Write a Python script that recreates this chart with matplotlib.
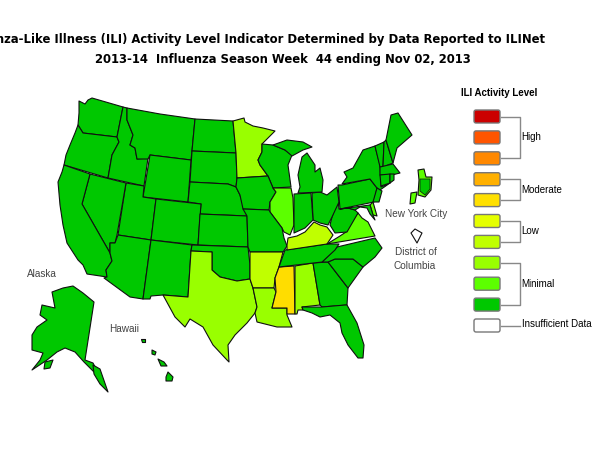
import matplotlib
matplotlib.use("Agg")
import matplotlib.pyplot as plt
from matplotlib.patches import FancyBboxPatch

# LEVELS
level_colors = ["#cc0000", "#ff5500", "#ff8800", "#ffb000", "#ffe000", "#e5ff00",
                "#c0ff00", "#99ff00", "#5cff00", "#00c800", "#ffffff"]
DARK, MID, LIGHT, LOW, MOD = "#00c800", "#5cff00", "#99ff00", "#c0ff00", "#ffdd00"

# STATE OUTLINES (reference pixels)
WA = [(79,101),(85,104),(88,100),(92,98),(123,107),(117,137),(100,135),(83,133),(78,125),(79,113)]
OR = [(78,125),(83,133),(100,135),(117,137),(119,142),(112,155),(108,178),(64,165),(66,155),(70,145),(75,133)]
ID = [(123,107),(127,108),(127,120),(133,135),(130,145),(135,148),(137,159),(148,158),(144,186),(108,178),(112,155),(119,142),(117,137)]
MT = [(127,108),(160,114),(195,119),(192,151),(191,160),(150,155),(148,159),(137,159),(135,148),(130,145),(133,135),(127,120)]
WY = [(150,155),(191,160),(188,202),(143,197)]
ND = [(195,119),(233,121),(236,153),(192,151)]
SD = [(192,151),(236,153),(237,178),(236,187),(228,184),(190,182)]
NE = [(190,182),(228,184),(236,187),(240,195),(243,205),(247,216),(200,214),(201,204),(188,202)]
UT = [(126,183),(144,186),(143,197),(156,199),(151,240),(118,235)]
CO = [(156,199),(201,204),(198,245),(151,240)]
KS = [(200,214),(247,216),(248,247),(198,245)]
NV = [(90,174),(126,183),(117,235),(115,243),(110,243),(110,253),(82,204)]
CA = [(64,165),(90,174),(82,204),(110,253),(112,261),(106,270),(107,277),(87,274),(83,265),(78,260),(67,243),(63,225),
      (60,205),(58,182),(62,172)]
AZ = [(118,235),(151,240),(143,299),(130,297),(104,278),(107,277),(106,270),(112,261),(110,253),(110,243),(115,243)]
NM = [(151,240),(192,245),(191,251),(188,297),(163,295),(151,296),(150,299),(143,299)]
OK = [(192,245),(248,247),(250,265),(250,279),(237,281),(220,277),(212,270),(212,252),(191,251)]
TX = [(191,251),(212,252),(212,270),(220,277),(237,281),(250,279),(253,288),(257,307),(255,313),(247,323),(235,335),
      (228,345),(229,362),(227,360),(213,345),(203,327),(190,319),(185,327),(175,317),(163,295),(188,297)]
MN = [(233,121),(244,118),(245,122),(253,126),(263,128),(275,131),(262,144),(262,152),(258,160),(260,165),(268,176),(237,178),(236,153)]
WI = [(262,144),(273,145),(285,150),(292,155),(288,165),(291,187),(273,188),(268,176),(260,165),(258,160),(262,152)]
IA = [(237,178),(268,176),(273,188),(276,192),(270,202),(269,210),(243,209),(240,195),(236,187)]
IL = [(273,188),(291,188),(293,198),(294,225),(290,235),(284,232),(282,228),(270,212),(270,202),(276,192)]
MO = [(243,209),(269,210),(270,212),(282,228),(284,238),(287,246),(283,252),(250,252),(248,247),(247,216)]
AR = [(250,252),(283,252),(279,267),(275,278),(274,288),(253,288),(250,279)]
LA = [(253,288),(274,288),(276,292),(272,308),(287,308),(287,315),(292,327),(277,327),(257,322),(255,313),(257,307)]
MS = [(279,267),(294,266),(295,314),(287,314),(287,308),(272,308),(276,292),(275,278)]
AL = [(295,266),(313,263),(320,305),(302,307),(303,310),(298,310),(297,314),(295,314)]
GA = [(313,263),(328,262),(348,288),(347,305),(322,307),(320,305)]
FL = [(302,307),(322,307),(345,305),(347,305),(357,323),(364,345),(363,358),(358,358),(348,345),(342,333),(340,323),
      (330,315),(320,317),(312,313),(303,310)]
SC = [(328,262),(335,259),(353,259),(363,267),(348,288)]
NC = [(322,262),(337,247),(375,238),(382,248),(375,257),(363,267),(353,259),(335,259),(328,262)]
TN = [(285,250),(327,244),(339,244),(335,250),(322,262),(279,267)]
KY = [(287,245),(288,238),(297,236),(305,232),(314,222),(320,225),(327,227),(333,235),(327,244),(287,250)]
VA = [(327,244),(340,236),(346,232),(352,221),(358,213),(362,218),(368,222),(371,228),(375,236)]
WV = [(338,200),(339,209),(348,208),(355,210),(358,213),(347,232),(335,233),(330,225),(332,217)]
OH = [(312,193),(320,192),(327,195),(337,187),(339,202),(332,217),(328,225),(320,223),(313,220)]
IN = [(294,194),(311,193),(313,220),(305,228),(294,233),(294,225)]
MI_L = [(298,193),(322,192),(323,180),(320,168),(315,172),(315,165),(307,153),(302,157),(298,175),(300,187)]
MI_U = [(273,145),(287,140),(303,142),(312,147),(303,150),(292,156),(285,150)]
PA = [(338,185),(342,185),(370,179),(377,188),(374,202),(340,209)]
NY = [(344,172),(353,168),(363,150),(375,146),(380,165),(381,187),(390,183),(380,190),(377,188),(370,179),(342,184),(347,177)]
VT = [(375,146),(384,142),(383,167),(380,167)]
NH = [(384,142),(386,140),(393,163),(383,167)]
ME = [(386,140),(391,115),(398,113),(412,135),(397,148),(393,163)]
MA = [(380,167),(393,164),(400,173),(392,175),(380,175)]
CT = [(380,175),(390,174),(390,183),(381,186)]
RI = [(390,174),(394,174),(394,180),(390,183)]
NJ = [(377,188),(382,191),(379,202),(373,202),(375,195)]
DE = [(370,205),(373,202),(377,216),(373,215)]
MD = [(340,209),(370,205),(373,215),(375,220),(370,214),(367,208),(360,207),(355,210),(348,208)]
NYC_A = [(418,170),(424,169),(426,177),(432,177),(431,190),(425,197),(418,195),(419,180)]
NYC_B = [(411,193),(417,192),(415,203),(410,204)]
DC = [(411,233),(415,229),(422,233),(417,243)]
AK = [(52,292),(63,288),(73,286),(83,293),(94,302),(85,360),(93,363),(102,380),(90,368),(84,362),(75,352),(65,348),
      (57,352),(47,360),(32,370),(40,360),(43,353),(32,350),(32,335),(37,327),(47,320),(40,315),(42,305),(55,308)]
AK_PAN = [(93,365),(100,369),(108,392),(100,384),(94,374)]
KODIAK = [(45,362),(53,360),(50,368),(44,369)]
HI_1 = [(141,339),(145,339),(145,342),(142,342)]
HI_2 = [(152,350),(156,352),(155,355),(152,354)]
HI_3 = [(158,359),(164,362),(167,366),(161,366)]
HI_4 = [(168,372),(173,377),(172,381),(166,381),(166,377)]

states = [(WA,DARK),(OR,DARK),(ID,DARK),(MT,DARK),(WY,DARK),(ND,DARK),(SD,DARK),(NE,DARK),(UT,DARK),(CO,DARK),
          (KS,DARK),(NV,DARK),(CA,DARK),(AZ,DARK),(NM,DARK),(OK,DARK),(TX,LIGHT),(MN,LIGHT),(WI,DARK),(IA,DARK),
          (IL,MID),(MO,DARK),(AR,LOW),(LA,LIGHT),(MS,MOD),(AL,LIGHT),(GA,DARK),(FL,DARK),(SC,DARK),(NC,DARK),
          (TN,DARK),(KY,LOW),(VA,MID),(WV,DARK),(OH,DARK),(IN,DARK),(MI_L,DARK),(MI_U,DARK),(PA,DARK),(NY,DARK),
          (VT,DARK),(NH,DARK),(ME,DARK),(MA,DARK),(CT,DARK),(RI,DARK),(NJ,DARK),(DE,MID),(MD,DARK),
          (NYC_A,MID),(NYC_B,MID),(DC,"#ffffff"),(AK,DARK),(AK_PAN,DARK),(KODIAK,DARK),
          (HI_1,DARK),(HI_2,DARK),(HI_3,DARK),(HI_4,DARK)]

# LEGEND
bracket_labels = ["High", "Moderate", "Low", "Minimal"]
bracket_rows = [(0, 2), (3, 4), (5, 6), (7, 9)]

fig = plt.figure(figsize=(6, 4.5), dpi=100)
ax = fig.add_axes([0, 0, 1, 1])
ax.set_xlim(0, 600)
ax.set_ylim(450, 0)
ax.axis("off")

for outline, color in states:
    xs, ys = zip(*outline)
    ax.fill(xs, ys, facecolor=color, edgecolor="#101010", linewidth=0.8, joinstyle="round")

# NYC dark centre
ax.fill([420, 430, 430, 425, 420], [179, 179, 189, 195, 191], facecolor=DARK, edgecolor="#101010", linewidth=0.5)

# TITLE
ax.text(251, 39, "Influenza-Like Illness (ILI) Activity Level Indicator Determined by Data Reported to ILINet",
        ha="center", va="center", fontsize=8.4, fontweight="bold", family="DejaVu Sans", color="black")
ax.text(283, 60, "2013-14  Influenza Season Week  44 ending Nov 02, 2013",
        ha="center", va="center", fontsize=8.4, fontweight="bold", family="DejaVu Sans", color="black")

# MAP LABELS
for x, y, label in [(27, 274, "Alaska"), (109, 329, "Hawaii"), (385, 214, "New York City"),
                    (395, 252, "District of"), (394, 266, "Columbia")]:
    ax.text(x, y, label, ha="left", va="center", fontsize=7.2, family="Liberation Sans", color="#444444")

# LEGEND BOXES
ax.text(461, 93, "ILI Activity Level", ha="left", va="center", fontsize=7, fontweight="bold",
        family="Liberation Sans", color="black")
row_y = [109 + 20.9 * i for i in range(len(level_colors))]
for y, color in zip(row_y, level_colors):
    ax.add_patch(FancyBboxPatch((474, y + 1), 26, 13, boxstyle="round,pad=0,rounding_size=2",
                                facecolor=color, edgecolor="#777777", linewidth=1))

for label, (first, last) in zip(bracket_labels, bracket_rows):
    y0, y1 = row_y[first] + 7.5, row_y[last] + 7.5
    ax.plot([501, 520, 520, 501], [y0, y0, y1, y1], color="#888888", lw=1)
    ax.text(521, (y0 + y1) / 2, label, ha="left", va="center", fontsize=7, family="Liberation Sans", color="black")
ax.plot([501, 520], [row_y[10] + 7.5] * 2, color="#888888", lw=1)
ax.text(522, row_y[10] + 6, "Insufficient Data", ha="left", va="center", fontsize=7, family="Liberation Sans", color="black")

fig.savefig("out.png", dpi=100)
